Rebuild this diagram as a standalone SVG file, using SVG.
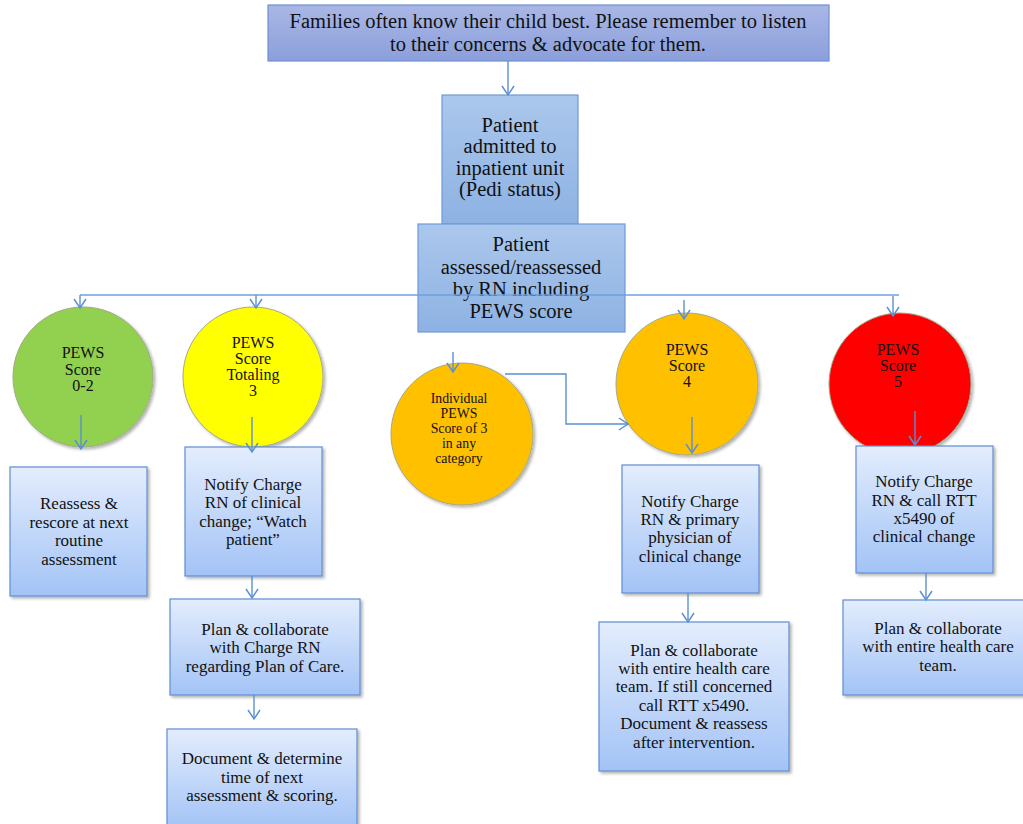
<svg xmlns="http://www.w3.org/2000/svg" width="1023" height="824" viewBox="0 0 1023 824">
<defs>
<linearGradient id="gTop" x1="0" y1="0" x2="0" y2="1"><stop offset="0" stop-color="#a9b7e6"/><stop offset="1" stop-color="#8c9fdb"/></linearGradient>
<linearGradient id="gMid" x1="0" y1="0" x2="0" y2="1"><stop offset="0" stop-color="#abc7ec"/><stop offset="1" stop-color="#8db2e3"/></linearGradient>
<linearGradient id="gBox" x1="0" y1="0" x2="0" y2="1"><stop offset="0" stop-color="#e3edfd"/><stop offset="1" stop-color="#a3c3f6"/></linearGradient>
<filter id="sh" x="-10%" y="-10%" width="130%" height="130%"><feDropShadow dx="2" dy="2" stdDeviation="1.5" flood-color="#000" flood-opacity="0.3"/></filter>
<marker id="ah" viewBox="-1 -7 12 14" refX="9" refY="0" markerWidth="12" markerHeight="14" markerUnits="userSpaceOnUse" orient="auto">
<path d="M0,-6 L9,0 L0,6" fill="none" stroke="#5b8fd4" stroke-width="1.5"/>
</marker>
</defs>
<style>
text{font-family:"Liberation Serif","Times New Roman",serif;fill:#111;text-anchor:middle}
.top{fill:url(#gTop);stroke:#6f8fd0;stroke-width:1.2}
.mid{fill:url(#gMid);stroke:#6f9ad6;stroke-width:1.2}
.box{fill:url(#gBox);stroke:#5f8ed3;stroke-width:1.2;filter:url(#sh)}
.t19{font-family:"Liberation Serif",serif;font-size:20.5px}
.t20{font-family:"Liberation Serif",serif;font-size:20.5px}
.t17{font-family:"Liberation Serif",serif;font-size:17px}
.t15{font-family:"Liberation Serif",serif;font-size:16px}
.t14{font-family:"Liberation Serif",serif;font-size:13.8px}
.circ{stroke:#a3a98a;stroke-width:1;filter:url(#sh)}
.con{fill:none;stroke:#6fa0dc;stroke-width:1.4}
.arr{fill:none;stroke:#5b8fd4;stroke-width:1.4;marker-end:url(#ah)}
</style>
<rect width="1023" height="824" fill="#fff"/>

<g id="n-families">
<rect class="top" x="268" y="5" width="561" height="56"/>
<text class="t19" x="548" y="28">Families often know their child best. Please remember to listen</text>
<text class="t19" x="548" y="51">to their concerns &amp; advocate for them.</text>
</g>

<g id="n-admitted">
<rect class="mid" x="442" y="95" width="136" height="129"/>
<text class="t20" x="510" y="132">Patient</text>
<text class="t20" x="510" y="153">admitted to</text>
<text class="t20" x="510" y="175">inpatient unit</text>
<text class="t20" x="510" y="196">(Pedi status)</text>
</g>

<g id="n-assessed">
<rect class="mid" x="418" y="224" width="207" height="108"/>
<text class="t20" x="521" y="251">Patient</text>
<text class="t20" x="521" y="274">assessed/reassessed</text>
<text class="t20" x="521" y="296">by RN including</text>
<text class="t20" x="521" y="318">PEWS score</text>
</g>

<g id="n-score02">
<circle class="circ" cx="83" cy="377" r="70" fill="#92d050"/>
<text class="t15" x="83" y="358">PEWS</text>
<text class="t15" x="83" y="375">Score</text>
<text class="t15" x="83" y="391">0-2</text>
</g>

<g id="n-score3">
<circle class="circ" cx="253" cy="377" r="70" fill="#ffff00"/>
<text class="t15" x="253" y="348">PEWS</text>
<text class="t15" x="253" y="364">Score</text>
<text class="t15" x="253" y="380">Totaling</text>
<text class="t15" x="253" y="396">3</text>
</g>

<g id="n-individual">
<circle class="circ" cx="462" cy="434" r="71" fill="#ffc000"/>
<text class="t14" x="459" y="403">Individual</text>
<text class="t14" x="459" y="418">PEWS</text>
<text class="t14" x="459" y="433">Score of 3</text>
<text class="t14" x="459" y="448">in any</text>
<text class="t14" x="459" y="463">category</text>
</g>

<g id="n-score4">
<circle class="circ" cx="687" cy="384" r="71" fill="#ffc000"/>
<text class="t15" x="687" y="355">PEWS</text>
<text class="t15" x="687" y="371">Score</text>
<text class="t15" x="687" y="387">4</text>
</g>

<g id="n-score5">
<circle class="circ" cx="900" cy="384" r="71" fill="#ff0000"/>
<text class="t15" x="898" y="355">PEWS</text>
<text class="t15" x="898" y="371">Score</text>
<text class="t15" x="898" y="387">5</text>
</g>

<g id="n-reassess">
<rect class="box" x="10" y="467" width="137" height="129"/>
<text class="t17" x="79" y="509">Reassess &amp;</text>
<text class="t17" x="79" y="528">rescore at next</text>
<text class="t17" x="79" y="546">routine</text>
<text class="t17" x="79" y="565">assessment</text>
</g>

<g id="n-notify3">
<rect class="box" x="185" y="447" width="137" height="129"/>
<text class="t17" x="253" y="490">Notify Charge</text>
<text class="t17" x="253" y="508">RN of clinical</text>
<text class="t17" x="253" y="527">change; “Watch</text>
<text class="t17" x="253" y="545">patient”</text>
</g>

<g id="n-plan3">
<rect class="box" x="170" y="599" width="190" height="96"/>
<text class="t17" x="265" y="635">Plan &amp; collaborate</text>
<text class="t17" x="265" y="653">with Charge RN</text>
<text class="t17" x="265" y="672">regarding Plan of Care.</text>
</g>

<g id="n-document3">
<rect class="box" x="167" y="729" width="190" height="100"/>
<text class="t17" x="262" y="764">Document &amp; determine</text>
<text class="t17" x="262" y="783">time of next</text>
<text class="t17" x="262" y="801">assessment &amp; scoring.</text>
</g>

<g id="n-notify4">
<rect class="box" x="622" y="465" width="137" height="128"/>
<text class="t17" x="690" y="507">Notify Charge</text>
<text class="t17" x="690" y="525">RN &amp; primary</text>
<text class="t17" x="690" y="543">physician of</text>
<text class="t17" x="690" y="562">clinical change</text>
</g>

<g id="n-plan4">
<rect class="box" x="599" y="622" width="190" height="149"/>
<text class="t17" x="694" y="656">Plan &amp; collaborate</text>
<text class="t17" x="694" y="674">with entire health care</text>
<text class="t17" x="694" y="692">team. If still concerned</text>
<text class="t17" x="694" y="711">call RTT x5490.</text>
<text class="t17" x="694" y="729">Document &amp; reassess</text>
<text class="t17" x="694" y="748">after intervention.</text>
</g>

<g id="n-notify5">
<rect class="box" x="856" y="446" width="137" height="127"/>
<text class="t17" x="924" y="487">Notify Charge</text>
<text class="t17" x="924" y="506">RN &amp; call RTT</text>
<text class="t17" x="924" y="524">x5490 of</text>
<text class="t17" x="924" y="542">clinical change</text>
</g>

<g id="n-plan5">
<rect class="box" x="843" y="600" width="192" height="95"/>
<text class="t17" x="938" y="634">Plan &amp; collaborate</text>
<text class="t17" x="938" y="652">with entire health care</text>
<text class="t17" x="938" y="671">team.</text>
</g>

<g id="connectors">
<path class="arr" d="M508,61 V95"/>
<path class="con" d="M899,295 H80"/>
<path class="arr" d="M80,295 V308"/>
<path class="arr" d="M256,295 V308"/>
<path class="arr" d="M684,300 V319"/>
<path class="arr" d="M893,296 V316"/>
<path class="arr" d="M453,352 V372"/>
<path class="arr" d="M505,374 H566 V424 H628"/>
<path class="arr" d="M81,415 V449"/>
<path class="arr" d="M252,417 V452"/>
<path class="arr" d="M692,417 V453"/>
<path class="arr" d="M915,411 V445"/>
<path class="arr" d="M252,576 V598"/>
<path class="arr" d="M254,695 V719"/>
<path class="arr" d="M688,593 V622"/>
<path class="arr" d="M926,573 V600"/>
</g>
</svg>
